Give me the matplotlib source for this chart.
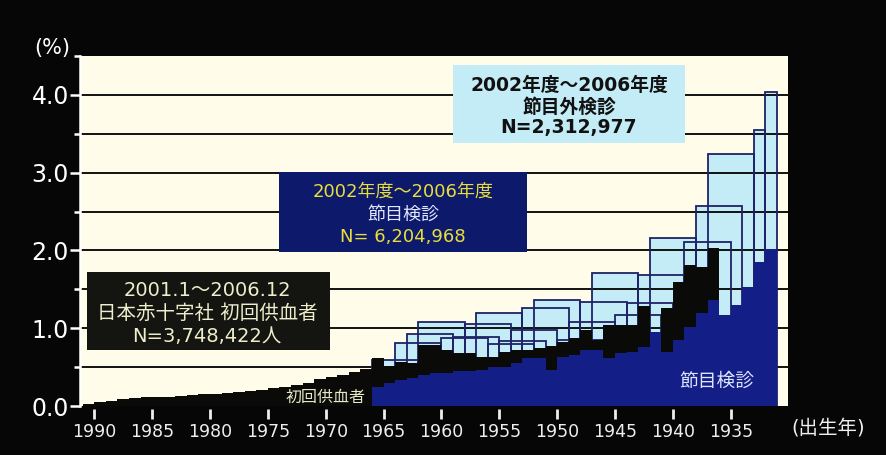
import matplotlib
matplotlib.use('Agg')
import matplotlib.pyplot as plt
from matplotlib.patches import Rectangle
import numpy as np

FAM = ['DejaVu Sans', 'Noto Sans CJK JP']
plt.rcParams['font.family'] = FAM

# ---------------- data ----------------
# first-time blood donors (Japanese Red Cross), rate % by birth year (lower edge of 1-year bin)
donor_years = list(range(1990, 1935, -1))
donor_rate = [0.03, 0.05, 0.07, 0.09, 0.10, 0.11, 0.11, 0.12, 0.13, 0.14,
              0.15, 0.16, 0.17, 0.18, 0.19, 0.21, 0.23, 0.25, 0.27, 0.30,
              0.35, 0.37, 0.40, 0.44, 0.48,
              0.62, 0.52, 0.57, 0.55, 0.78, 0.78, 0.72, 0.68, 0.68, 0.63,
              0.63, 0.70, 0.72, 0.72, 0.75, 0.77, 0.82, 0.87, 0.98, 0.85,
              1.04, 1.04, 1.04, 1.28, 0.90, 1.26, 1.60, 1.81, 1.79, 2.03]

# milestone screening (節目検診), rate % by birth year
milestone_years = list(range(1965, 1930, -1))
milestone_rate = [0.25, 0.30, 0.33, 0.36, 0.40, 0.42, 0.42, 0.45, 0.45, 0.46,
                  0.50, 0.50, 0.55, 0.62, 0.62, 0.46, 0.63, 0.66, 0.72, 0.72,
                  0.62, 0.68, 0.70, 0.76, 0.95, 0.70, 0.85, 1.02, 1.20, 1.36,
                  1.17, 1.30, 1.53, 1.85, 2.02]

# non-milestone screening (節目外検診): birth-year groups (start year, span in years, rate %)
nonms_start = [1931, 1932, 1933, 1938, 1943, 1948, 1953, 1958,
               1934, 1939, 1944, 1949, 1954, 1959,
               1935, 1940, 1945, 1950, 1955, 1960,
               1941, 1946, 1951, 1956, 1952, 1962]
nonms_span = [1, 1, 4, 4, 4, 4, 4, 4,
              4, 4, 4, 4, 4, 4,
              4, 4, 4, 4, 4, 4,
              4, 4, 4, 4, 4, 4]
nonms_rate = [4.04, 3.55, 3.24, 2.16, 1.71, 1.36, 1.20, 1.08,
              2.57, 1.69, 1.34, 1.26, 1.06, 0.93,
              2.11, 1.32, 1.08, 0.98, 0.89, 0.81,
              1.17, 0.85, 0.83, 0.87, 0.80, 0.59]

x_ticks = [1990, 1985, 1980, 1975, 1970, 1965, 1960, 1955, 1950, 1945, 1940, 1935]
y_major = [0.0, 1.0, 2.0, 3.0, 4.0]
y_major_labels = ['0.0', '1.0', '2.0', '3.0', '4.0']
y_grid = [0.5, 1.0, 1.5, 2.0, 2.5, 3.0, 3.5, 4.0]

# ---------------- style ----------------
BG = '#060606'
CREAM = '#fffdea'
LBLUE = '#c4ecf7'
NAVY = '#131e86'
BLACK = '#0a0a08'

W, H = 887, 455
fig = plt.figure(figsize=(W / 100, H / 100), dpi=100, facecolor=BG)


def fx(px):
    return px / W


def fy(py):
    return 1 - py / H


ax = fig.add_axes([fx(80), fy(406), fx(788) - fx(80), fy(56) - fy(406)])
ax.set_facecolor(CREAM)
ax.set_xlim(1991.24, 1930.05)
ax.set_ylim(0, 4.5)

# non-milestone boxes: fills first, then outlines
ax.bar(nonms_start, nonms_rate, width=nonms_span, align='edge',
       color=LBLUE, edgecolor='none', zorder=1)
for g in y_grid:
    ax.axhline(g, color='#111111', lw=1.4, zorder=1.5)
ax.bar(nonms_start, nonms_rate, width=nonms_span, align='edge',
       fill=False, edgecolor='#1e2266', lw=1.3, zorder=1.6)


def stairs(ax, years, vals, color, z):
    yrs = np.array(years)
    v = np.array(vals)
    o = np.argsort(yrs)
    edges = np.r_[yrs[o], yrs[o][-1] + 1]
    ax.stairs(v[o], edges, fill=True, color=color, baseline=0, zorder=z, lw=0)


stairs(ax, donor_years, donor_rate, BLACK, 3)
stairs(ax, milestone_years, milestone_rate, NAVY, 4)

# axes styling
for s in ['top', 'right']:
    ax.spines[s].set_visible(False)
ax.spines['bottom'].set_visible(False)
ax.spines['bottom'].set_position(('outward', 2))
ax.spines['left'].set_color('white')
ax.spines['left'].set_linewidth(1.8)

ax.set_yticks(y_major)
ax.set_yticklabels(y_major_labels)
ax.set_yticks([0.5, 1.5, 2.5, 3.5, 4.5], minor=True)
ax.tick_params(axis='y', which='major', colors='white', length=7, width=1.8,
               labelsize=17, pad=1)
ax.tick_params(axis='y', which='minor', colors='white', length=4, width=1.8)

ax.set_xticks(x_ticks)
ax.set_xticklabels([str(x) for x in x_ticks])
ax.tick_params(axis='x', which='major', colors='#eeeeee', length=7, width=2,
               labelsize=12.5, pad=3)

# outer texts
fig.text(fx(52), fy(48), '(%)', color='white', fontsize=15, ha='center', va='center')
fig.text(fx(828), fy(428), '(出生年)', color='#eeeeee', fontsize=14, ha='center', va='center')

# in-plot labels
fig.text(fx(326), fy(397), '初回供血者', color='#e8e8c8', fontsize=11.5,
         ha='center', va='center', zorder=10)
fig.text(fx(717), fy(381), '節目検診', color='#dde4ff', fontsize=13.5,
         ha='center', va='center', zorder=10)

# annotation boxes


def box(x0, y0, x1, y1, fc):
    r = Rectangle((fx(x0), fy(y1)), fx(x1) - fx(x0), fy(y0) - fy(y1),
                  transform=fig.transFigure, facecolor=fc, edgecolor='none', zorder=5)
    fig.add_artist(r)


box(453, 65, 685, 143, LBLUE)
for t, yy in zip(['2002年度～2006年度', '節目外検診', 'N=2,312,977'], [85, 107, 128]):
    fig.text(fx(569), fy(yy), t, color='#111111', fontsize=13.5, fontweight='bold',
             ha='center', va='center', zorder=6)

box(279, 172, 527, 252, '#0d1a6c')
for t, yy, c in zip(['2002年度～2006年度', '節目検診', 'N= 6,204,968'], [192, 215, 237],
                    ['#e8de3c', '#e2e6ff', '#e8de3c']):
    fig.text(fx(403), fy(yy), t, color=c, fontsize=13, ha='center', va='center', zorder=6)

box(87, 272, 330, 350, '#141410')
for t, yy in zip(['2001.1～2006.12', '日本赤十字社 初回供血者', 'N=3,748,422人'], [290, 313, 336]):
    fig.text(fx(207), fy(yy), t, color='#eeeecc', fontsize=14, ha='center', va='center', zorder=6)

fig.savefig('out.png', dpi=100, facecolor=BG)
